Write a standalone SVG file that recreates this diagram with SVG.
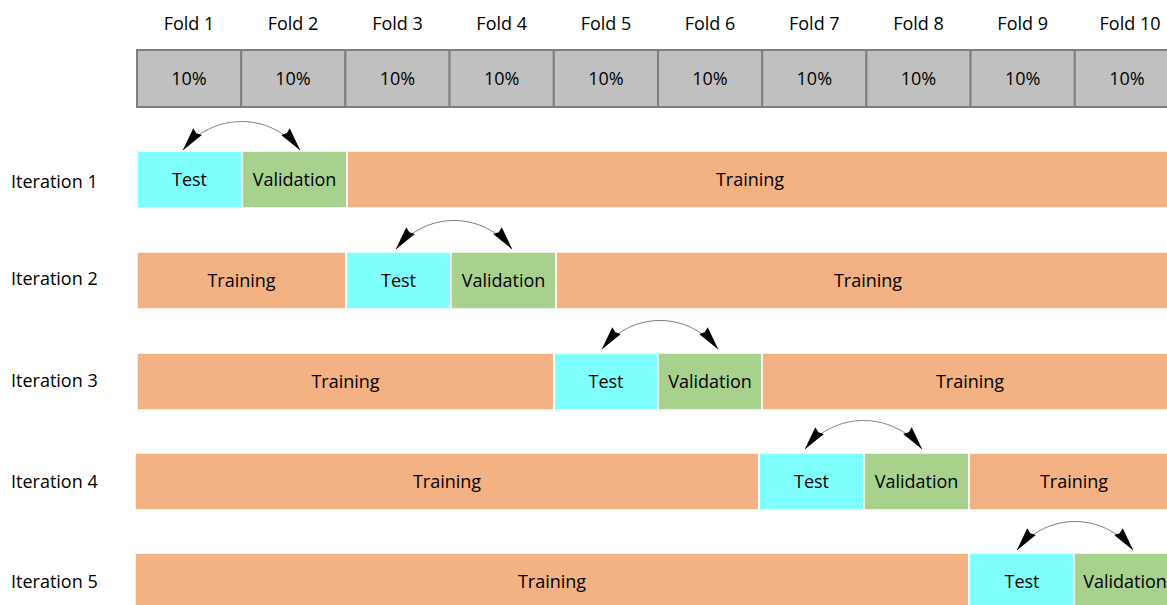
<svg xmlns="http://www.w3.org/2000/svg" width="1167" height="605" viewBox="0 0 1167 605">
<style>
text{font-family:"Open Sans","Liberation Sans",sans-serif;font-size:18px;fill:#000}
.c{text-anchor:middle}
.fold{fill:#c0c0c0;stroke:#7f7f7f;stroke-width:2}
.te{fill:#80ffff;stroke:#fff;stroke-width:1.5}
.va{fill:#a9d18e;stroke:#fff;stroke-width:1.5}
.tr{fill:#f4b183;stroke:#fff;stroke-width:1.5}
.arc{fill:none;stroke:#808080;stroke-width:1;marker-start:url(#ah);marker-end:url(#ah)}
</style>
<defs>
<marker id="ah" viewBox="0 0 24 12" refX="23.5" refY="6" markerWidth="24" markerHeight="12" markerUnits="userSpaceOnUse" orient="auto-start-reverse">
<path d="M0,0.5 L24,6 L0,11.5 L2,6 Z" fill="#000"/>
</marker>
</defs>
<rect width="1167" height="605" fill="#fff"/>
<g id="folds">
<rect class="fold" x="137" y="50" width="104.2" height="57"/>
<rect class="fold" x="241.2" y="50" width="104.2" height="57"/>
<rect class="fold" x="345.4" y="50" width="104.2" height="57"/>
<rect class="fold" x="449.6" y="50" width="104.2" height="57"/>
<rect class="fold" x="553.8" y="50" width="104.2" height="57"/>
<rect class="fold" x="658" y="50" width="104.2" height="57"/>
<rect class="fold" x="762.2" y="50" width="104.2" height="57"/>
<rect class="fold" x="866.4" y="50" width="104.2" height="57"/>
<rect class="fold" x="970.6" y="50" width="104.2" height="57"/>
<rect class="fold" x="1074.8" y="50" width="104.2" height="57"/>
<text class="c" x="189" y="30">Fold 1</text>
<text class="c" x="293" y="30">Fold 2</text>
<text class="c" x="397.5" y="30">Fold 3</text>
<text class="c" x="501.7" y="30">Fold 4</text>
<text class="c" x="606" y="30">Fold 5</text>
<text class="c" x="710" y="30">Fold 6</text>
<text class="c" x="814.3" y="30">Fold 7</text>
<text class="c" x="918.5" y="30">Fold 8</text>
<text class="c" x="1022.7" y="30">Fold 9</text>
<text class="c" x="1130" y="30">Fold 10</text>
<text class="c" x="189" y="85">10%</text>
<text class="c" x="293" y="85">10%</text>
<text class="c" x="397.5" y="85">10%</text>
<text class="c" x="501.7" y="85">10%</text>
<text class="c" x="606" y="85">10%</text>
<text class="c" x="710" y="85">10%</text>
<text class="c" x="814.3" y="85">10%</text>
<text class="c" x="918.5" y="85">10%</text>
<text class="c" x="1022.7" y="85">10%</text>
<text class="c" x="1127" y="85">10%</text>
</g>
<g id="iter1">
<text x="11" y="188">Iteration 1</text>
<rect class="te" x="137" y="151" width="105" height="57"/>
<rect class="va" x="242" y="151" width="105" height="57"/>
<rect class="tr" x="347" y="151" width="830" height="57"/>
<text class="c" x="189.5" y="186">Test</text>
<text class="c" x="294.5" y="186">Validation</text>
<text class="c" x="750" y="186">Training</text>
</g>
<g id="iter2">
<text x="11" y="285">Iteration 2</text>
<rect class="tr" x="137" y="252" width="209" height="57"/>
<rect class="te" x="346" y="252" width="105" height="57"/>
<rect class="va" x="451" y="252" width="105" height="57"/>
<rect class="tr" x="556" y="252" width="621" height="57"/>
<text class="c" x="241.5" y="287">Training</text>
<text class="c" x="398.5" y="287">Test</text>
<text class="c" x="503.5" y="287">Validation</text>
<text class="c" x="868" y="287">Training</text>
</g>
<g id="iter3">
<text x="11" y="387">Iteration 3</text>
<rect class="tr" x="137" y="353" width="417" height="57"/>
<rect class="te" x="554" y="353" width="104" height="57"/>
<rect class="va" x="658" y="353" width="104" height="57"/>
<rect class="tr" x="762" y="353" width="415" height="57"/>
<text class="c" x="345.5" y="388">Training</text>
<text class="c" x="606" y="388">Test</text>
<text class="c" x="710" y="388">Validation</text>
<text class="c" x="970" y="388">Training</text>
</g>
<g id="iter4">
<text x="11" y="488">Iteration 4</text>
<rect class="tr" x="135" y="453" width="624" height="57"/>
<rect class="te" x="759" y="453" width="105" height="57"/>
<rect class="va" x="864" y="453" width="105" height="57"/>
<rect class="tr" x="969" y="453" width="208" height="57"/>
<text class="c" x="447" y="488">Training</text>
<text class="c" x="811.5" y="488">Test</text>
<text class="c" x="916.5" y="488">Validation</text>
<text class="c" x="1074" y="488">Training</text>
</g>
<g id="iter5">
<text x="11" y="588">Iteration 5</text>
<rect class="tr" x="135" y="553" width="834" height="57"/>
<rect class="te" x="969" y="553" width="105" height="57"/>
<rect class="va" x="1074" y="553" width="105" height="57"/>
<text class="c" x="552" y="588">Training</text>
<text class="c" x="1022" y="588">Test</text>
<text class="c" x="1125" y="588">Validation</text>
</g>
<g id="connectors">
<path class="arc" d="M183,150 C213,112 270,112 300,150"/>
<path class="arc" d="M396,249 C426,211 482,211 512,249"/>
<path class="arc" d="M602,349 C632,311 688,311 718,349"/>
<path class="arc" d="M805,449 C835,411 892,411 922,449"/>
<path class="arc" d="M1017,550 C1047,512 1103,512 1133,550"/>
</g>
</svg>
